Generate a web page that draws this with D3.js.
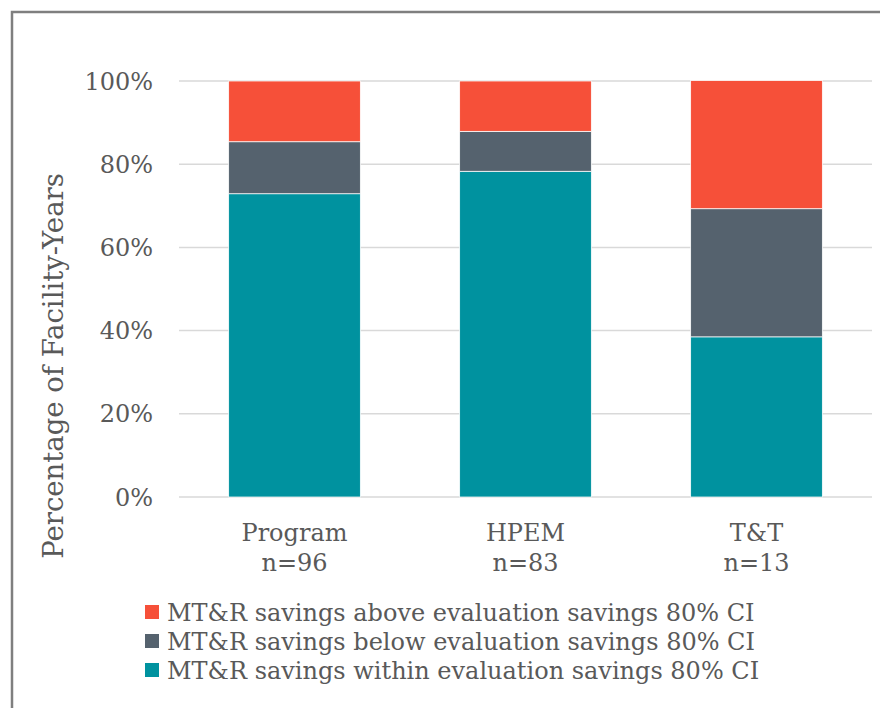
<!DOCTYPE html>
<html>
<head>
<meta charset="utf-8">
<script src="https://cdn.jsdelivr.net/npm/d3@7"></script>
<style>
  body { margin: 0; background: #fff; }
  svg text { font-family: "DejaVu Serif", Georgia, serif; fill: #595959; }
</style>
</head>
<body>
<svg width="880" height="708"></svg>
<script>
// groups and sample sizes
var groups = ["Program", "HPEM", "T&T"];
var sampleN = ["n=96", "n=83", "n=13"];

// percent of facility-years per group
var within = [72.9, 78.3, 38.5];
var below = [12.5, 9.6, 30.8];
var above = [14.6, 12.1, 30.8];

var yTicks = [0, 20, 40, 60, 80, 100];

var seriesNames = [
  "MT&R savings within evaluation savings 80% CI",
  "MT&R savings below evaluation savings 80% CI",
  "MT&R savings above evaluation savings 80% CI"
];
var seriesColors = ["#00929f", "#55626e", "#f65039"];

var svg = d3.select("svg");

// outer frame (runs off the right and bottom edge like the original)
svg.append("rect")
  .attr("x", 12).attr("y", 12)
  .attr("width", 900).attr("height", 720)
  .attr("fill", "none")
  .attr("stroke", "#7f7f7f")
  .attr("stroke-width", 2.5);

var x = d3.scaleBand()
  .domain(groups)
  .range([179, 872])
  .paddingInner(0.43)
  .paddingOuter(0.215);

var y = d3.scaleLinear()
  .domain([0, 100])
  .range([497, 81]);

// gridlines
svg.append("g")
  .selectAll("line")
  .data(yTicks)
  .enter()
  .append("line")
  .attr("x1", 179).attr("x2", 872)
  .attr("y1", (d) => y(d)).attr("y2", (d) => y(d))
  .attr("stroke", "#d9d9d9")
  .attr("stroke-width", 1.5);

// y tick labels
svg.append("g")
  .selectAll("text")
  .data(yTicks)
  .enter()
  .append("text")
  .attr("x", 153)
  .attr("y", (d) => y(d))
  .attr("dy", "0.36em")
  .attr("text-anchor", "end")
  .attr("font-size", "24px")
  .text((d) => d + "%");

// stack the series
var table = groups.map((g, i) => ({ group: g, within: within[i], below: below[i], above: above[i] }));
var stack = d3.stack().keys(["within", "below", "above"])(table);

svg.append("g")
  .selectAll("g")
  .data(stack)
  .enter()
  .append("g")
  .attr("fill", (d, i) => seriesColors[i])
  .selectAll("rect")
  .data((d) => d)
  .enter()
  .append("rect")
  .attr("x", (d) => x(d.data.group))
  .attr("width", x.bandwidth())
  .attr("y", (d) => y(d[1]))
  .attr("height", (d) => y(d[0]) - y(d[1]))
  .attr("stroke", "#fff")
  .attr("stroke-width", 0.75);

// category labels
var cat = svg.append("g")
  .selectAll("text")
  .data(groups)
  .enter()
  .append("text")
  .attr("text-anchor", "middle")
  .attr("font-size", "24px");
cat.append("tspan").attr("x", (d) => x(d) + x.bandwidth() / 2).attr("y", 541).text((d) => d);
cat.append("tspan").attr("x", (d) => x(d) + x.bandwidth() / 2).attr("y", 571).text((d, i) => sampleN[i]);

// y axis title
svg.append("text")
  .attr("transform", "translate(63,366) rotate(-90)")
  .attr("text-anchor", "middle")
  .attr("font-size", "27.5px")
  .text("Percentage of Facility-Years");

// legend, top row is the last series
var legendOrder = [2, 1, 0];
var legendY = [612, 641, 670];
var leg = svg.append("g")
  .selectAll("g")
  .data(legendOrder)
  .enter()
  .append("g")
  .attr("transform", (d, i) => "translate(145," + legendY[i] + ")");
leg.append("rect")
  .attr("x", 0).attr("y", -7)
  .attr("width", 14).attr("height", 14)
  .attr("fill", (d) => seriesColors[d]);
leg.append("text")
  .attr("x", 22)
  .attr("dy", "0.36em")
  .attr("font-size", "24px")
  .text((d) => seriesNames[d]);
</script>
</body>
</html>
